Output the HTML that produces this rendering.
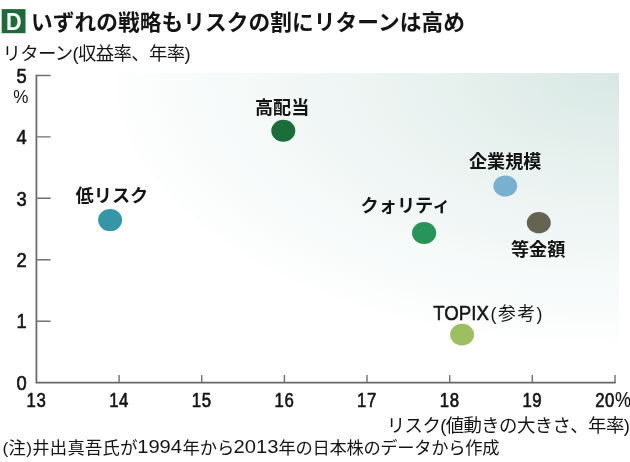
<!DOCTYPE html>
<html lang="ja"><head><meta charset="utf-8"><title>D いずれの戦略もリスクの割にリターンは高め</title>
<style>html,body{margin:0;padding:0;background:#fff;font-family:"Liberation Sans","Noto Sans CJK JP",sans-serif}svg{display:block}</style>
</head><body>
<svg width="630" height="462" viewBox="0 0 630 462" font-family="'Liberation Sans', 'Noto Sans CJK JP', sans-serif">
<defs><radialGradient id="bg" gradientUnits="userSpaceOnUse" cx="0" cy="0" r="1" gradientTransform="translate(619,73) scale(506,271)"><stop offset="0.000" stop-color="#d8e8e4"/><stop offset="0.050" stop-color="#dae9e6"/><stop offset="0.100" stop-color="#dcebe7"/><stop offset="0.150" stop-color="#deece8"/><stop offset="0.200" stop-color="#e1edea"/><stop offset="0.250" stop-color="#e3eeeb"/><stop offset="0.300" stop-color="#e5f0ed"/><stop offset="0.350" stop-color="#e7f1ee"/><stop offset="0.400" stop-color="#e9f2f0"/><stop offset="0.450" stop-color="#ebf3f1"/><stop offset="0.500" stop-color="#edf4f2"/><stop offset="0.550" stop-color="#eff5f4"/><stop offset="0.600" stop-color="#f0f6f5"/><stop offset="0.650" stop-color="#f2f7f6"/><stop offset="0.700" stop-color="#f4f9f7"/><stop offset="0.750" stop-color="#f6faf9"/><stop offset="0.800" stop-color="#f7fafa"/><stop offset="0.850" stop-color="#f9fbfb"/><stop offset="0.900" stop-color="#fafcfc"/><stop offset="0.950" stop-color="#fcfdfd"/><stop offset="0.995" stop-color="#fdfefd"/><stop offset="1" stop-color="#ffffff"/></radialGradient></defs>
<rect x="97" y="73" width="522" height="274" fill="url(#bg)"/>
<rect x="1.7" y="9.1" width="23.8" height="24.1" fill="#1e6b39"/>
<path d="M36.4,74.8V382.6H615.7" fill="none" stroke="#666" stroke-width="1.7"/>
<path d="M36.4,321.2h14.2M36.4,259.8h14.2M36.4,198.3h14.2M36.4,136.9h14.2M36.4,75.5h14.2M119.1,382.6v-7.6M201.7,382.6v-7.6M284.4,382.6v-7.6M367.0,382.6v-7.6M449.7,382.6v-7.6M532.3,382.6v-7.6M615.0,382.6v-7.6" fill="none" stroke="#707070" stroke-width="1.4"/>
<ellipse cx="110.1" cy="220.1" rx="12.0" ry="11.0" fill="#3496a7"/>
<ellipse cx="283.3" cy="130.8" rx="12.0" ry="11.0" fill="#1b6d3a"/>
<ellipse cx="424.1" cy="233.0" rx="12.1" ry="11.0" fill="#29945a"/>
<ellipse cx="505.3" cy="186.0" rx="11.9" ry="10.6" fill="#78b0cf"/>
<ellipse cx="538.8" cy="222.7" rx="12.0" ry="10.6" fill="#656452"/>
<ellipse cx="462.1" cy="334.6" rx="12.0" ry="10.8" fill="#9dbf62"/>
<g style="will-change:transform">
<text transform="translate(13.9,30.0) scale(0.94,1)" font-size="23" font-weight="bold" fill="#fff" text-anchor="middle">D</text>
<text x="31" y="29.8" font-size="21.7" font-weight="bold" fill="#141414" textLength="434" lengthAdjust="spacing" font-family="'Liberation Sans', 'Noto Sans CJK JP', sans-serif">いずれの戦略もリスクの割にリターンは高め</text>
<text x="2.5" y="60.3" font-size="18.4" fill="#141414" textLength="188" lengthAdjust="spacing" font-family="'Liberation Sans', 'Noto Sans CJK JP', sans-serif">リターン(収益率、年率)</text>
<text transform="translate(22.0,389.8) scale(0.9,1)" font-size="20.4" fill="#141414" stroke="#141414" stroke-width="0.6" stroke-linejoin="round" text-anchor="middle" vector-effect="non-scaling-stroke" letter-spacing="0.7">0</text>
<text transform="translate(22.0,328.4) scale(0.9,1)" font-size="20.4" fill="#141414" stroke="#141414" stroke-width="0.6" stroke-linejoin="round" text-anchor="middle" vector-effect="non-scaling-stroke" letter-spacing="0.7">1</text>
<text transform="translate(22.0,267.0) scale(0.9,1)" font-size="20.4" fill="#141414" stroke="#141414" stroke-width="0.6" stroke-linejoin="round" text-anchor="middle" vector-effect="non-scaling-stroke" letter-spacing="0.7">2</text>
<text transform="translate(22.0,205.5) scale(0.9,1)" font-size="20.4" fill="#141414" stroke="#141414" stroke-width="0.6" stroke-linejoin="round" text-anchor="middle" vector-effect="non-scaling-stroke" letter-spacing="0.7">3</text>
<text transform="translate(22.0,144.1) scale(0.9,1)" font-size="20.4" fill="#141414" stroke="#141414" stroke-width="0.6" stroke-linejoin="round" text-anchor="middle" vector-effect="non-scaling-stroke" letter-spacing="0.7">4</text>
<text transform="translate(22.0,82.7) scale(0.9,1)" font-size="20.4" fill="#141414" stroke="#141414" stroke-width="0.6" stroke-linejoin="round" text-anchor="middle" vector-effect="non-scaling-stroke" letter-spacing="0.7">5</text>
<text transform="translate(21.2,103.0) scale(0.95,1)" font-size="18" fill="#141414" stroke="#141414" stroke-width="0" stroke-linejoin="round" text-anchor="middle" vector-effect="non-scaling-stroke" letter-spacing="0.7">%</text>
<text transform="translate(36.4,407.0) scale(0.8,1)" font-size="21.0" fill="#141414" stroke="#141414" stroke-width="0.6" stroke-linejoin="round" text-anchor="middle" vector-effect="non-scaling-stroke" letter-spacing="0.7">13</text>
<text transform="translate(119.1,407.0) scale(0.8,1)" font-size="21.0" fill="#141414" stroke="#141414" stroke-width="0.6" stroke-linejoin="round" text-anchor="middle" vector-effect="non-scaling-stroke" letter-spacing="0.7">14</text>
<text transform="translate(201.7,407.0) scale(0.8,1)" font-size="21.0" fill="#141414" stroke="#141414" stroke-width="0.6" stroke-linejoin="round" text-anchor="middle" vector-effect="non-scaling-stroke" letter-spacing="0.7">15</text>
<text transform="translate(284.4,407.0) scale(0.8,1)" font-size="21.0" fill="#141414" stroke="#141414" stroke-width="0.6" stroke-linejoin="round" text-anchor="middle" vector-effect="non-scaling-stroke" letter-spacing="0.7">16</text>
<text transform="translate(367.0,407.0) scale(0.8,1)" font-size="21.0" fill="#141414" stroke="#141414" stroke-width="0.6" stroke-linejoin="round" text-anchor="middle" vector-effect="non-scaling-stroke" letter-spacing="0.7">17</text>
<text transform="translate(449.7,407.0) scale(0.8,1)" font-size="21.0" fill="#141414" stroke="#141414" stroke-width="0.6" stroke-linejoin="round" text-anchor="middle" vector-effect="non-scaling-stroke" letter-spacing="0.7">18</text>
<text transform="translate(532.3,407.0) scale(0.8,1)" font-size="21.0" fill="#141414" stroke="#141414" stroke-width="0.6" stroke-linejoin="round" text-anchor="middle" vector-effect="non-scaling-stroke" letter-spacing="0.7">19</text>
<text transform="translate(631.5,407.0) scale(0.8,1)" font-size="21.0" fill="#141414" stroke="#141414" stroke-width="0.6" stroke-linejoin="round" text-anchor="end" vector-effect="non-scaling-stroke" letter-spacing="0.7">20<tspan font-size="22.5" stroke-width="0.2">%</tspan></text>
<text x="255.0" y="114.2" font-size="18.1" font-weight="bold" fill="#141414" font-family="'Liberation Sans', 'Noto Sans CJK JP', sans-serif">高配当</text>
<text x="469.0" y="168.0" font-size="18.1" font-weight="bold" fill="#141414" font-family="'Liberation Sans', 'Noto Sans CJK JP', sans-serif">企業規模</text>
<text x="511.0" y="255.6" font-size="18.1" font-weight="bold" fill="#141414" font-family="'Liberation Sans', 'Noto Sans CJK JP', sans-serif">等金額</text>
<text x="75.5" y="202.3" font-size="18.2" font-weight="bold" fill="#141414" font-family="'Liberation Sans', 'Noto Sans CJK JP', sans-serif">低リスク</text>
<text x="360.5" y="211.8" font-size="18.2" font-weight="bold" fill="#141414" font-family="'Liberation Sans', 'Noto Sans CJK JP', sans-serif">クォリティ</text>
<text x="433.3" y="319.6" font-size="20.8" fill="#141414" stroke="#141414" stroke-width="0.55" stroke-linejoin="round" textLength="55.6" lengthAdjust="spacingAndGlyphs">TOPIX</text>
<text x="490.5" y="320.1" font-size="17.8" fill="#141414" textLength="52" lengthAdjust="spacing" font-family="'Liberation Sans', 'Noto Sans CJK JP', sans-serif">(参考)</text>
<text x="386.8" y="431.6" font-size="18.4" fill="#141414" textLength="243" lengthAdjust="spacing" font-family="'Liberation Sans', 'Noto Sans CJK JP', sans-serif">リスク(値動きの大きさ、年率)</text>
<text x="2.5" y="453.7" font-size="17.3" fill="#141414" textLength="135" lengthAdjust="spacing" font-family="'Liberation Sans', 'Noto Sans CJK JP', sans-serif">(注)井出真吾氏が</text>
<text x="182.5" y="453.7" font-size="17.3" fill="#141414" font-family="'Liberation Sans', 'Noto Sans CJK JP', sans-serif">年から</text>
<text x="278.5" y="453.7" font-size="17.3" fill="#141414" textLength="221" lengthAdjust="spacing" font-family="'Liberation Sans', 'Noto Sans CJK JP', sans-serif">年の日本株のデータから作成</text>
<text x="137.2" y="452.9" font-size="19" fill="#141414" textLength="44.8" lengthAdjust="spacingAndGlyphs">1994</text>
<text x="233.6" y="452.9" font-size="19" fill="#141414" textLength="45.0" lengthAdjust="spacingAndGlyphs">2013</text>
</g>
</svg>
</body></html>
